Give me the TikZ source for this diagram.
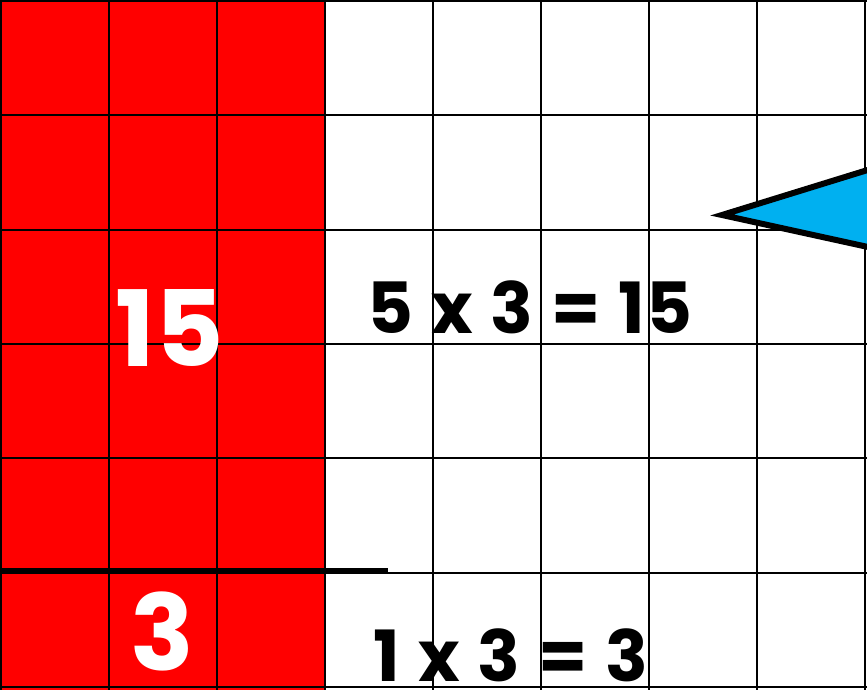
\documentclass[tikz,border=0pt]{standalone}
\usepackage{fontspec}
\setmainfont{Poppins}
\newfontfamily\sumfont{Poppins}[WordSpace=1.1, LetterSpace=2]
\usepackage{xcolor}
\definecolor{CellRed}{HTML}{FF0000}
\definecolor{Pointer}{HTML}{00B0F0}
\tikzset{
 gridline/.style={draw=black, line width=1.5pt},
 splitline/.style={draw=black, line width=4.5pt},
 bignum/.style={text=white, font=\fontsize{79}{79}\selectfont\bfseries, inner sep=0pt, anchor=base},
 sumtext/.style={text=black, font=\sumfont\fontsize{53}{53}\selectfont\bfseries, inner sep=0pt, anchor=base},
 pointer/.style={fill=Pointer, draw=black, line width=4.5pt, miter limit=10}
}
\begin{document}
\begin{tikzpicture}[x=0.75pt,y=-0.75pt]
\useasboundingbox (0,0) rectangle (867,690);
\clip (0,0) rectangle (867,690);
\fill[CellRed] (0,0) rectangle (325,690);
\foreach \i in {0,...,8}{\draw[gridline] (1+108*\i,0) -- (1+108*\i,690);}
\foreach \j in {0,...,6}{\draw[gridline] (0,1+114.3*\j) -- (867,1+114.3*\j);}
\coordinate (splitleft) at (0,571);
\coordinate (splitright) at (388,571);
\draw[splitline] (splitleft) -- (splitright);
\coordinate (tip) at (722,215);
\coordinate (tiptop) at (900,160);
\coordinate (tipbottom) at (900,254);
\draw[pointer] (tip) -- (tiptop) -- (tipbottom) -- cycle;
\node[bignum] (fifteen) at (170,366) {15};
\node[bignum] (three) at (162,670) {3};
\node[sumtext] (rowfive) at (530,333) {5 x 3 = 15};
\node[sumtext] (rowone) at (511,681) {1 x 3 = 3};
\end{tikzpicture}
\end{document}
